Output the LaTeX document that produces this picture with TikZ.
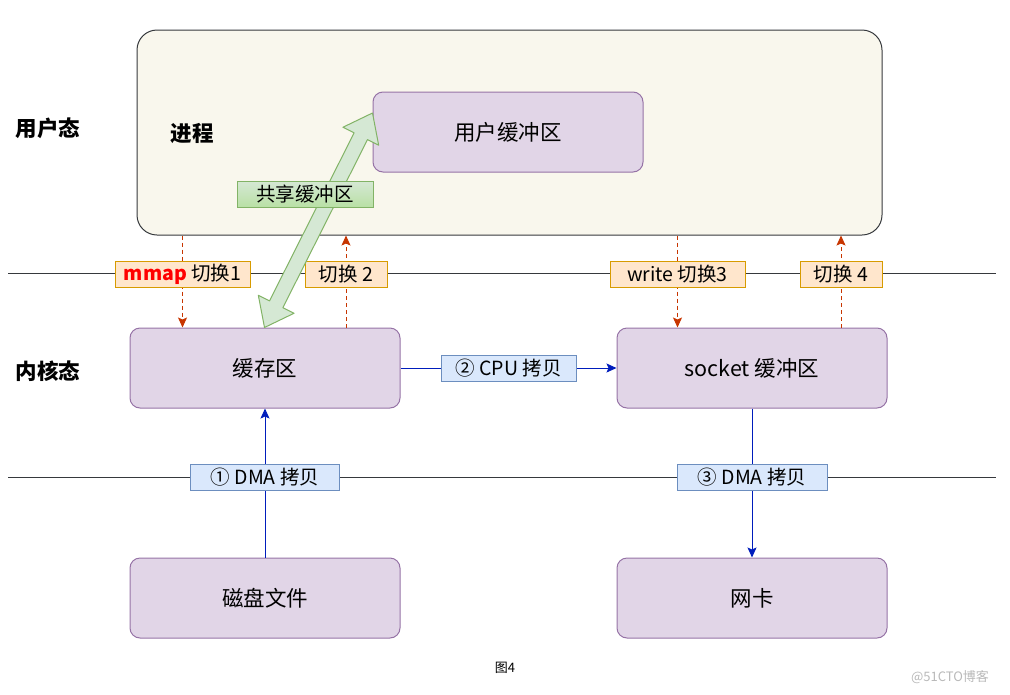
\documentclass[tikz,border=0pt]{standalone}
\usepackage{fontspec}
\setmainfont{Noto Sans CJK SC}
\usetikzlibrary{arrows.meta,calc,positioning}

\definecolor{procfill}{HTML}{F9F7ED}
\definecolor{procdraw}{HTML}{36393D}
\definecolor{buffill}{HTML}{E1D5E7}
\definecolor{bufdraw}{HTML}{9673A6}
\definecolor{swfill}{HTML}{FFE6CC}
\definecolor{swdraw}{HTML}{D79B00}
\definecolor{cpfill}{HTML}{DAE8FC}
\definecolor{cpdraw}{HTML}{6C8EBF}
\definecolor{shfill}{HTML}{D5E8D4}
\definecolor{shdark}{HTML}{B9E0A5}
\definecolor{shdraw}{HTML}{82B366}
\definecolor{copyline}{HTML}{001DBC}
\definecolor{swline}{HTML}{C73500}

\begin{document}
\begin{tikzpicture}[
  x=1pt, y=-1pt,
  >={Stealth[length=10pt, width=9pt, inset=2pt]},
  proc/.style  = {draw=procdraw, fill=procfill, line width=1pt, rounded corners=20pt,
                  minimum width=745pt, minimum height=205pt},
  buf/.style   = {draw=bufdraw, fill=buffill, line width=1pt, rounded corners=10pt,
                  minimum width=270pt, minimum height=80pt, font=\fontsize{21.5}{25}\selectfont},
  lvl/.style   = {font=\fontsize{21.5}{25}\selectfont\bfseries},
  sw/.style    = {draw=swdraw, fill=swfill, line width=0.8pt, inner sep=0pt, text=black,
                  minimum height=26pt, font=\fontsize{19.5}{22}\selectfont},
  cp/.style    = {draw=cpdraw, fill=cpfill, line width=0.8pt, inner sep=0pt, text=black,
                  minimum height=26pt, font=\fontsize{19.5}{22}\selectfont},
  level/.style = {procdraw, line width=1pt},
  swarrow/.style = {->, swline, line width=1pt, dash pattern=on 4pt off 3pt},
  cparrow/.style = {->, copyline, line width=1pt},
]
\useasboundingbox (0,0) rectangle (1010,694);

%% ---- user space ----------------------------------------------------------
\node[proc] (proc) at (509.5,132.5) {};
\node[buf]  (ubuf) at (508,132) {用户缓冲区};
\node[lvl]  (user) at (48,128) {用户态};
\node[lvl]  (pname) at (192,133) {进程};

%% ---- mode boundaries -----------------------------------------------------
\coordinate (upl) at (8,273);   \coordinate (upr) at (996,273);
\coordinate (lol) at (8,477);   \coordinate (lor) at (996,477);
\draw[level] (upl) -- (upr);
\draw[level] (lol) -- (lor);

%% ---- kernel and devices --------------------------------------------------
\node[buf] (cache) at (265,368) {缓存区};
\node[buf] (sock)  at (752,368) {socket 缓冲区};
\node[buf] (disk)  at (265,598) {磁盘文件};
\node[buf] (nic)   at (752,598) {网卡};
\node[lvl] (kern)  at (48,371) {内核态};

%% ---- context switches ----------------------------------------------------
\node[sw, minimum width=135pt] (sw1) at (182.5,274) {};
\node[sw, minimum width=82pt]  (sw2) at (346,274) {};
\node[sw, minimum width=135pt] (sw3) at (677.5,274) {};
\node[sw, minimum width=82pt]  (sw4) at (841,274) {};
\draw[swarrow] (proc.south -| sw1) -- (cache.north -| sw1);
\draw[swarrow] (cache.north -| sw2) -- (proc.south -| sw2);
\draw[swarrow] (proc.south -| sw3) -- (sock.north -| sw3);
\draw[swarrow] (sock.north -| sw4) -- (proc.south -| sw4);
\node[sw, minimum width=135pt] at (sw1) {\textcolor{red}{\bfseries mmap}\ 切换1};
\node[sw, minimum width=82pt]  at (sw2) {切换 2};
\node[sw, minimum width=135pt] at (sw3) {write 切换3};
\node[sw, minimum width=82pt]  at (sw4) {切换 4};

%% ---- shared mapping ------------------------------------------------------
\coordinate (sa) at ($(cache.north west)+(135,0)$);
\coordinate (sb) at ($(ubuf.west)+(0,-19)$);
\coordinate (h1) at ($(sa)!26pt!(sb)$);
\coordinate (h2) at ($(sb)!26pt!(sa)$);
\filldraw[fill=shfill, draw=shdraw, line width=1pt, line join=round]
  (sa) -- ($(h1)!20pt!90:(sb)$) -- ($(h1)!7.5pt!90:(sb)$)
  -- ($(h2)!7.5pt!-90:(sa)$) -- ($(h2)!20pt!-90:(sa)$) -- (sb)
  -- ($(h2)!20pt!90:(sa)$) -- ($(h2)!7.5pt!90:(sa)$)
  -- ($(h1)!7.5pt!-90:(sb)$) -- ($(h1)!20pt!-90:(sb)$) -- cycle;
\node[draw=shdraw, top color=shfill, bottom color=shdark, line width=0.8pt, inner sep=0pt,
      minimum width=136pt, minimum height=26pt, font=\fontsize{19.5}{22}\selectfont]
  (shared) at (305,194) {共享缓冲区};

%% ---- copies --------------------------------------------------------------
\draw[cparrow] (cache) -- node[cp, minimum width=135pt] (cpu) {② CPU 拷贝} (sock);
\draw[cparrow] (disk) -- node[cp, minimum width=149pt, pos=0.54] (dma1) {① DMA 拷贝} (cache);
\draw[cparrow] (sock) -- node[cp, minimum width=150pt, pos=0.46] (dma3) {③ DMA 拷贝} (nic);

%% ---- caption -------------------------------------------------------------
\node[font=\fontsize{13}{15}\selectfont] (cap) at (505,668) {图4};
\node[font=\fontsize{13}{15}\selectfont, gray!55] (mark) at (950,677) {@51CTO博客};

\end{tikzpicture}
\end{document}
